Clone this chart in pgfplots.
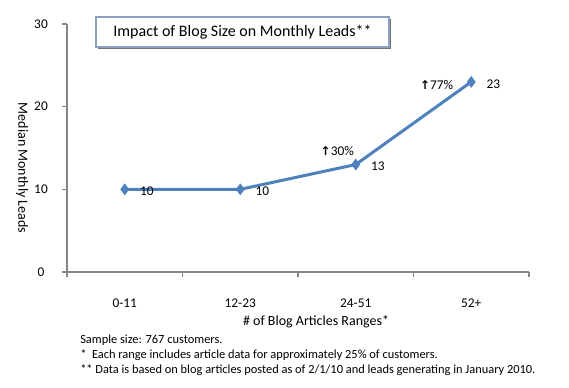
\documentclass[border=0pt]{standalone}
\usepackage{fontspec}
\setmainfont{Carlito}
\newfontfamily\dejavu{DejaVu Sans}
\usepackage{pgfplots}
\pgfplotsset{compat=1.18}
\usetikzlibrary{shadows}
\definecolor{lineblue}{RGB}{79,129,189}
\definecolor{axgray}{RGB}{134,134,134}
\definecolor{boxborder}{RGB}{140,160,196}
\begin{document}
\begin{tikzpicture}[x=0.75pt,y=0.75pt]
\useasboundingbox (-67,-115) rectangle (502,272);
\begin{axis}[at={(0,0)}, anchor=south west, scale only axis,
  width=346.5pt, height=186pt,
  xmin=-0.5, xmax=3.5, ymin=0, ymax=30,
  axis x line*=bottom, axis y line*=left,
  axis line style={axgray, line width=0.8pt},
  xtick={0,1,2,3}, xticklabels={0-11,12-23,24-51,52+},
  major x tick style={draw=none},
  minor xtick={-0.5,0.5,1.5,2.5,3.5},
  ytick={0,10,20,30},
  tick align=outside, tick style={axgray, line width=0.8pt},
  major tick length=3.75pt, minor tick length=3.75pt,
  /pgf/number format/assume math mode=true,
  tick label style={font=\fontsize{10}{12}\selectfont, black},
  xticklabel style={anchor=center, yshift=-19.5pt},
  yticklabel style={anchor=center, xshift=-15.75pt},
  xlabel={\# of Blog Articles Ranges*},
  xlabel style={at={(axis description cs:0.539,0)}, anchor=center, yshift=-37.3pt, font=\fontsize{10.5}{12}\selectfont},
  ylabel={Median Monthly Leads},
  ylabel style={at={(axis description cs:0,0.419)}, anchor=center, rotate=180, yshift=-33.75pt, font=\fontsize{10.5}{12}\selectfont},
  clip=false,
  nodes near coords,
  every node near coord/.append style={anchor=west, xshift=8pt, yshift=-1.5pt, font=\fontsize{10}{12}\selectfont, black},
]
\addplot[lineblue, line width=2.25pt, mark=diamond*, mark size=4pt, mark options={fill=lineblue, draw=lineblue, line width=0.5pt}]
  coordinates {(0,10) (1,10) (2,13) (3,23)};
\node[font=\fontsize{10}{12}\selectfont] at (axis cs:1.84,14.6) {{\dejavu\bfseries\fontsize{9}{10}\selectfont ↑}30\%};
\node[font=\fontsize{10}{12}\selectfont] at (axis cs:2.70,22.6) {{\dejavu\bfseries\fontsize{9}{10}\selectfont ↑}77\%};
\end{axis}
\node[draw=boxborder, line width=1pt, fill=white, minimum width=219.75pt, minimum height=22.5pt, inner sep=0pt,
  drop shadow={shadow xshift=1.8pt, shadow yshift=-1.8pt, fill=black!55, opacity=1},
  font=\fontsize{12}{14}\selectfont] at (175.5,240) {Impact of Blog Size on Monthly Leads**};
\begin{scope}[every node/.style={anchor=west, font=\fontsize{9.3}{10}\selectfont, inner sep=0pt}]
\node at (13,-68) {Sample size: 767 customers.};
\node at (13,-83) {*\ \ Each range includes article data for approximately 25\% of customers.};
\node at (13,-98) {** Data is based on blog articles posted as of 2/1/10 and leads generating in January 2010.};
\end{scope}
\end{tikzpicture}
\end{document}
